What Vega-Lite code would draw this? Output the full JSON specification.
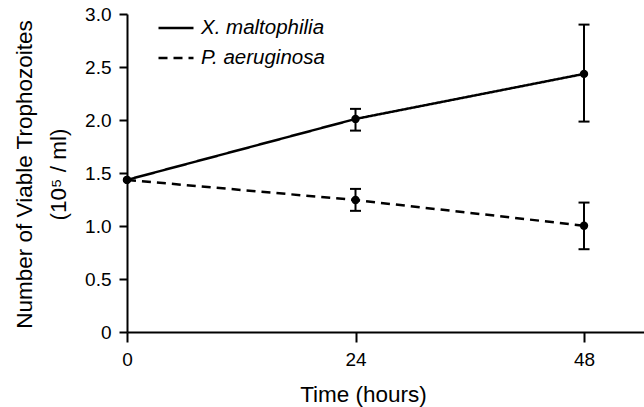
{
  "$schema": "https://vega.github.io/schema/vega-lite/v6.json",
  "width": 517,
  "height": 318,
  "autosize": {"type": "none"},
  "padding": {"left": 127, "top": 14, "right": 0, "bottom": 75},
  "background": "white",
  "config": {
    "view": {"stroke": null},
    "font": "Liberation Sans",
    "axis": {
      "domainColor": "black", "domainWidth": 2, "tickColor": "black", "tickWidth": 2,
      "labelColor": "black", "titleColor": "black", "labelFont": "Liberation Sans", "titleFont": "Liberation Sans",
      "titleFontWeight": "normal", "grid": false
    }
  },
  "data": {
    "values": [
      {"series": "X. maltophilia", "time": 0, "mean": 1.435, "lo": null, "hi": null},
      {"series": "X. maltophilia", "time": 24, "mean": 2.01, "lo": 1.9, "hi": 2.105},
      {"series": "X. maltophilia", "time": 48, "mean": 2.435, "lo": 1.985, "hi": 2.9},
      {"series": "P. aeruginosa", "time": 0, "mean": 1.435, "lo": null, "hi": null},
      {"series": "P. aeruginosa", "time": 24, "mean": 1.245, "lo": 1.143, "hi": 1.35},
      {"series": "P. aeruginosa", "time": 48, "mean": 1.003, "lo": 0.781, "hi": 1.221}
    ]
  },
  "encoding": {
    "x": {
      "field": "time", "type": "quantitative",
      "scale": {"domain": [0, 54.3], "nice": false, "zero": false},
      "axis": {
        "values": [0, 24, 48], "tickSize": 10, "labelPadding": 8, "labelFontSize": 19,
        "title": "Time (hours)", "titleFontSize": 22.5, "titleX": 236, "titleY": 69, "titleBaseline": "alphabetic",
        "labelFlush": false
      }
    },
    "y": {
      "field": "mean", "type": "quantitative",
      "scale": {"domain": [0, 3], "nice": false},
      "axis": {
        "values": [0, 0.5, 1, 1.5, 2, 2.5, 3], "tickSize": 8, "labelPadding": 8, "labelFontSize": 19,
        "labelExpr": "datum.value == 0 ? '0' : format(datum.value, '.1f')",
        "title": ["Number of Viable Trophozoites", "\u00a0\u00a0\u00a0\u00a0\u00a0\u00a0\u00a0\u00a0\u00a0\u00a0(10\u2075 / ml)"],
        "titleFontSize": 22.5, "titleLineHeight": 34, "titleX": -114, "titleY": 160, "titleBaseline": "top", "titleAngle": -90, "titleAlign": "center"
      }
    }
  },
  "layer": [
    {
      "mark": {"type": "line", "color": "black", "strokeWidth": 2.5},
      "encoding": {
        "strokeDash": {
          "field": "series", "type": "nominal",
          "scale": {"domain": ["X. maltophilia", "P. aeruginosa"], "range": [[1, 0], [9, 6]]},
          "legend": {
            "title": null, "orient": "none", "legendX": 30, "legendY": -5,
            "symbolType": "stroke", "symbolSize": 1225, "symbolStrokeWidth": 2.5, "symbolStrokeColor": "black",
            "labelFontSize": 20.5, "labelFontStyle": "italic", "labelColor": "black", "labelFont": "Liberation Sans",
            "labelOffset": 6, "rowPadding": -9, "labelLimit": 300
          }
        }
      }
    },
    {
      "mark": {"type": "rule", "color": "black", "strokeWidth": 2},
      "encoding": {"y": {"field": "lo", "type": "quantitative"}, "y2": {"field": "hi"}}
    },
    {
      "mark": {"type": "tick", "orient": "horizontal", "color": "black", "thickness": 2, "size": 11, "opacity": 1},
      "encoding": {"y": {"field": "lo", "type": "quantitative"}}
    },
    {
      "mark": {"type": "tick", "orient": "horizontal", "color": "black", "thickness": 2, "size": 11, "opacity": 1},
      "encoding": {"y": {"field": "hi", "type": "quantitative"}}
    },
    {
      "mark": {"type": "point", "filled": true, "color": "black", "size": 70, "opacity": 1}
    }
  ]
}
